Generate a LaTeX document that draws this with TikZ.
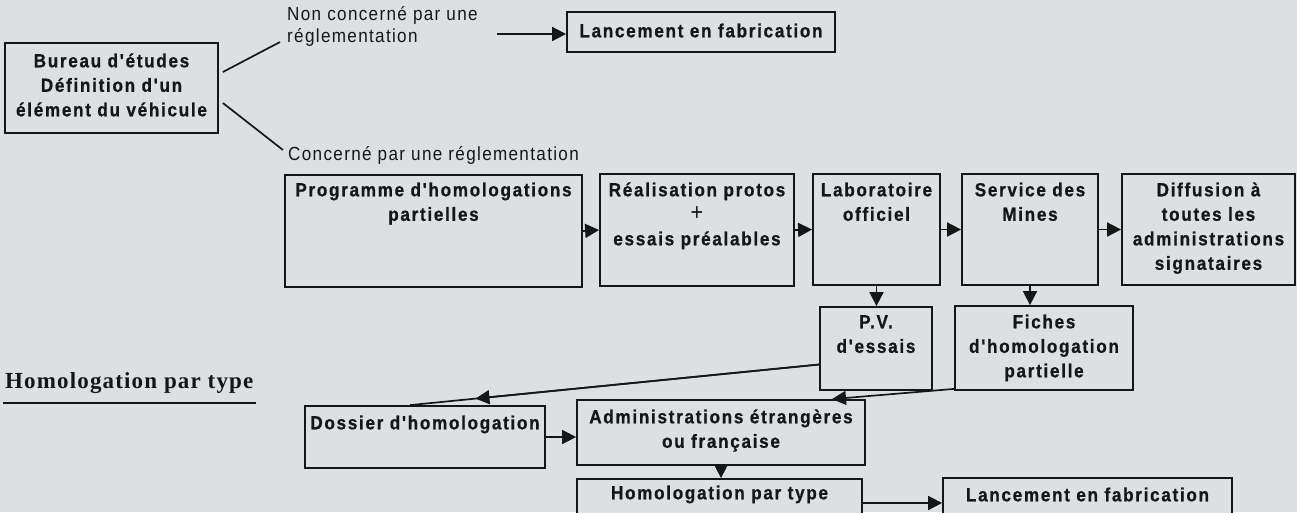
\documentclass[tikz,border=0pt]{standalone}
\usepackage{fontspec}
\setmainfont{Liberation Sans}[Ligatures=TeXOff,FakeStretch=0.9,UprightFeatures={LetterSpace=7},BoldFeatures={LetterSpace=9,FakeBold=0.8}]
\newfontfamily\serifbold{Liberation Serif}[LetterSpace=5]
\usetikzlibrary{arrows.meta,calc}
\definecolor{paper}{RGB}{221,224,226}
\definecolor{ink}{RGB}{22,22,22}
\newcommand\tstrut{\rule{0pt}{18pt}}
\newcommand\mkbox[7]{%
  \node[box, minimum width={#4-#2}, minimum height={#5-#3}] (#1) at ({(#2+#4)/2},{(#3+#5)/2}) {};
  \node[txt, anchor=north] (#1-t) at ([yshift=-#6pt]#1.north) {\tstrut#7};}
\begin{document}
\begin{tikzpicture}[x=1pt,y=-1pt,
  box/.style={draw=ink, line width=1.8pt, fill=paper, inner sep=0pt},
  txt/.style={font=\fontsize{19}{24.5}\selectfont\bfseries, align=center, text=ink, inner sep=0pt},
  plain/.style={font=\fontsize{19}{22}\selectfont, align=left, text=ink, inner sep=0pt},
  ln/.style={draw=ink, line width=1.7pt},
  arr/.style={ln, -{Triangle[length=14pt,width=14pt]}}]
\useasboundingbox (0,0) rectangle (1297,512);
\fill[paper] (0,0) rectangle (1297,512);
\clip (0,0) rectangle (1297,512);

% boxes
\mkbox{bureau}{5}{43}{218}{133}{7}{Bureau d'études\\Définition d'un\\élément du véhicule}
\mkbox{lanc1}{567}{12}{835}{52}{8}{Lancement en fabrication}
\mkbox{prog}{285}{175}{582}{287}{4}{Programme d'homologations\\partielles}
\mkbox{real}{600}{174}{794}{286}{5}{Réalisation protos\\{\mdseries\fontsize{24}{24.5}\selectfont+}\\essais préalables}
\mkbox{labo}{813}{174}{940}{285}{5}{Laboratoire\\officiel}
\mkbox{serv}{962}{174}{1098}{285}{5}{Service des\\Mines}
\mkbox{diff}{1122}{174}{1295}{285}{5}{Diffusion à\\toutes les\\administrations\\signataires}
\mkbox{pv}{820}{307}{932}{390}{4}{P.V.\\d'essais}
\mkbox{fiches}{955}{306}{1133}{390}{5}{Fiches\\d'homologation\\partielle}
\mkbox{doss}{305}{406}{545}{468}{6}{Dossier d'homologation}
\mkbox{admin}{577}{400}{865}{465}{6}{Administrations étrangères\\ou française}
\mkbox{homol}{577}{479}{862}{535}{3}{Homologation par type}
\mkbox{lanc2}{943}{478}{1232}{535}{6}{Lancement en fabrication}

% free texts
\node[plain, anchor=north west] (nonc) at (287,2) {\tstrut Non concerné par une\\réglementation};
\node[plain, anchor=north west] (conc) at (288,142) {\tstrut Concerné par une réglementation};
\node[font=\fontsize{23}{26}\selectfont\serifbold\bfseries, text=ink, inner sep=0pt, anchor=base west] (title) at (5,388) {Homologation par type};
\draw[ln] ([xshift=-2pt,yshift=-15pt]title.base west) -- ([xshift=2pt,yshift=-15pt]title.base east);

% coordinates
\coordinate (n1) at (280,42);
\coordinate (c1) at (283,150);
\coordinate (n2) at (497,34);

% connectors
\draw[ln] ([xshift=4pt,yshift=16pt]bureau.east) -- (n1);
\draw[ln] ([xshift=4pt,yshift=-15pt]bureau.east) -- (c1);
\draw[arr] (n2) -- (n2 -| lanc1.west);

\draw[arr] (prog.east) -- (real.west);
\draw[arr] (real.east) -- (labo.west);
\draw[arr] (labo.east) -- (serv.west);
\draw[arr] (serv.east) -- (diff.west);
\draw[arr] (labo.south) -- (labo.south |- pv.north);
\draw[arr] (serv.south) -- (serv.south |- fiches.north);

\coordinate (pvs) at ([yshift=-16pt]pv.west);
\coordinate (dt) at ([xshift=-15pt]doss.north);
\draw[ln] (pvs) -- (dt);
\draw[arr] (pvs) -- ($(pvs)!0.84!(dt)$);
\draw[arr] ([yshift=2pt]fiches.south west) -- ([xshift=111pt]admin.north);

\draw[arr] (doss.east) -- (doss.east -| admin.west);
\draw[arr] (admin.south) -- (admin.south |- homol.north);
\draw[arr] ([yshift=4pt]homol.east) -- ([yshift=4pt]homol.east -| lanc2.west);
\end{tikzpicture}
\end{document}
